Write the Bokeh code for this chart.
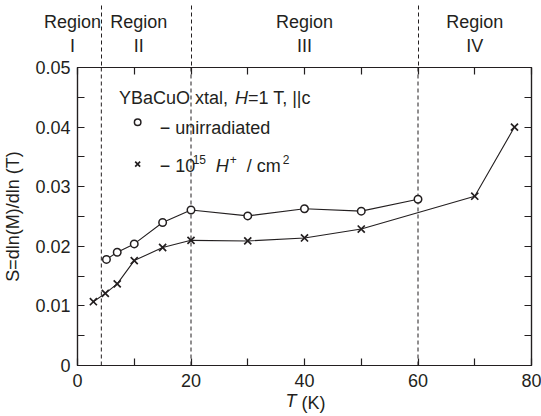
from bokeh.plotting import figure
from bokeh.models import (Range1d, FixedTicker, CustomJSTickFormatter, LinearAxis, Label)
from bokeh.embed import file_html
from bokeh.resources import INLINE

# ---- data -------------------------------------------------------------
T_unirr = [5.1, 7, 10, 15, 20, 30, 40, 50, 60]
S_unirr = [0.0178, 0.0190, 0.0204, 0.0240, 0.0261, 0.0251, 0.0263, 0.0259, 0.0279]

T_irr = [2.8, 4.9, 7, 10, 15, 20, 30, 40, 50, 70, 77]
S_irr = [0.0107, 0.0121, 0.0137, 0.0176, 0.0198, 0.0210, 0.0209, 0.0214, 0.0229, 0.0284, 0.0400]

region_bounds = [4.2, 20, 60]
region_names = ["I", "II", "III", "IV"]
region_ticks = [0, 10.8, 40, 70]      # caption anchors along T
region_pad = [2, 0, 0, 0]             # no-break spaces pushing the first caption left of T=0

x_major = [0, 20, 40, 60, 80]
x_minor = [10, 30, 50, 70]
y_major = [0, 0.01, 0.02, 0.03, 0.04, 0.05]
y_minor = [0.005, 0.015, 0.025, 0.035, 0.045]

# ---- layout / style ---------------------------------------------------
W, H = 541, 416
TOP, LEFT, RIGHT, BOTTOM = 67, 77, 10, 51
XMIN, XMAX = 0, 80
YMIN, YMAX = 0, 0.05
FONT = "Liberation Sans"
INK = "#231f20"
FS = "18px"
NBSP = "\u00a0"

p = figure(width=W, height=H, output_backend="svg", toolbar_location=None,
           x_range=Range1d(XMIN, XMAX), y_range=Range1d(YMIN, YMAX),
           min_border_left=LEFT, min_border_right=RIGHT,
           min_border_top=TOP, min_border_bottom=BOTTOM)
p.outline_line_color = INK
p.outline_line_width = 1.2
p.xgrid.visible = False
p.ygrid.visible = False

xt = FixedTicker(ticks=x_major, minor_ticks=x_minor)
yt = FixedTicker(ticks=y_major, minor_ticks=y_minor)
blank = CustomJSTickFormatter(code="return '';")


def hide_labels(ax):
    ax.formatter = blank
    ax.major_label_text_color = None
    ax.major_label_text_font_size = "1px"
    ax.major_label_standoff = 0


def hide_rule(ax):
    ax.axis_line_color = None
    ax.major_tick_line_color = None
    ax.minor_tick_line_color = None
    ax.major_tick_in = 0
    ax.major_tick_out = 0
    ax.minor_tick_in = 0
    ax.minor_tick_out = 0


# box axes
top_axis = LinearAxis(ticker=xt)
right_axis = LinearAxis(ticker=yt)
p.add_layout(top_axis, "above")
p.add_layout(right_axis, "right")
p.below[0].ticker = xt
p.left[0].ticker = yt

for ax in (p.below[0], p.left[0], top_axis, right_axis):
    ax.axis_line_color = INK
    ax.axis_line_width = 1.2
    ax.major_tick_in = 7
    ax.major_tick_out = 0
    ax.minor_tick_in = 7
    ax.minor_tick_out = 0
    ax.major_tick_line_color = INK
    ax.minor_tick_line_color = INK
    ax.major_tick_line_width = 1.2
    ax.minor_tick_line_width = 1.2
    ax.major_label_text_font = FONT
    ax.major_label_text_font_size = FS
    ax.major_label_text_color = INK

hide_labels(top_axis)
hide_labels(right_axis)

p.below[0].formatter = CustomJSTickFormatter(code="return tick.toFixed(0);")
p.below[0].major_label_standoff = 8
p.left[0].formatter = CustomJSTickFormatter(code="return tick == 0 ? '0' : tick.toFixed(2);")
p.left[0].major_label_standoff = 7
p.left[0].axis_label = "S=dln(M)/dln (T)"
p.left[0].axis_label_text_font = FONT
p.left[0].axis_label_text_font_size = FS
p.left[0].axis_label_text_font_style = "normal"
p.left[0].axis_label_text_color = INK
p.left[0].axis_label_standoff = 9

# caption band: region names, with the boundary dashes running up through it
captions = {}
for t, name, pad in zip(region_ticks, region_names, region_pad):
    captions[t] = "Region" + NBSP * pad + "\n" + name + NBSP * pad
cap_axis = LinearAxis(ticker=FixedTicker(ticks=region_ticks, minor_ticks=region_bounds))
hide_rule(cap_axis)
cap_axis.minor_tick_line_color = INK
cap_axis.minor_tick_line_width = 1
cap_axis.minor_tick_line_dash = "4 3"
cap_axis.minor_tick_out = 62
cap_axis.major_label_overrides = captions
cap_axis.major_label_text_font = FONT
cap_axis.major_label_text_font_size = FS
cap_axis.major_label_text_color = INK
cap_axis.major_label_standoff = -50
p.add_layout(cap_axis, "above")

# x title: italic T followed by the unit
t_axis = LinearAxis(ticker=FixedTicker(ticks=[37.6], minor_ticks=[]))
hide_rule(t_axis)
t_axis.major_label_overrides = {37.6: "T"}
t_axis.major_label_text_font = FONT
t_axis.major_label_text_font_size = FS
t_axis.major_label_text_font_style = "italic"
t_axis.major_label_text_color = INK
t_axis.major_label_standoff = 1
p.add_layout(t_axis, "below")

k_axis = LinearAxis(ticker=FixedTicker(ticks=[41.6], minor_ticks=[]))
hide_rule(k_axis)
k_axis.major_label_overrides = {41.6: "(K)"}
k_axis.major_label_text_font = FONT
k_axis.major_label_text_font_size = FS
k_axis.major_label_text_color = INK
k_axis.major_label_standoff = -21
p.add_layout(k_axis, "below")

# region boundaries inside the frame
p.segment(x0=region_bounds, y0=[YMIN] * 3, x1=region_bounds, y1=[YMAX] * 3,
          line_color=INK, line_width=1, line_dash="4 3")

# series
p.line(T_unirr, S_unirr, line_color=INK, line_width=1.1)
p.scatter(T_unirr, S_unirr, marker="circle", size=7.5, line_color=INK,
          line_width=1.5, fill_color="white")
p.line(T_irr, S_irr, line_color=INK, line_width=1.1)
p.scatter(T_irr, S_irr, marker="x", size=10, line_color=INK, line_width=1.7)


def lab(x, y, text, xo=0, yo=0, size=FS, style="normal"):
    p.add_layout(Label(x=x, y=y, x_offset=xo, y_offset=yo, text=text,
                       text_font=FONT, text_font_size=size, text_font_style=style,
                       text_color=INK, text_align="left", text_baseline="alphabetic"))


# key
KX = 7.3          # left edge of the key title
MX = 10.6         # key symbol column
lab(KX, 0.04485, "YBaCuO xtal, ")
lab(KX, 0.04485, "H", xo=116, style="italic")
lab(KX, 0.04485, "=1 T, ||c", xo=129)

p.scatter([MX], [0.0408], marker="circle", size=6.5, line_color=INK,
          line_width=1.5, fill_color="white")
lab(MX, 0.03982, "\u2212 unirradiated", xo=22)

p.scatter([MX], [0.0338], marker="x", size=7, line_color=INK, line_width=1.7)
lab(MX, 0.03339, "\u2212 10", xo=22)
lab(MX, 0.03339, "15", xo=55, yo=7, size="12px")
lab(MX, 0.03339, "H", xo=78, style="italic")
lab(MX, 0.03339, "+", xo=92, yo=7, size="12px")
lab(MX, 0.03339, "/", xo=109)
lab(MX, 0.03339, "cm", xo=119)
lab(MX, 0.03339, "2", xo=145, yo=7, size="12px")

open("out.html", "w").write(file_html(p, INLINE))
